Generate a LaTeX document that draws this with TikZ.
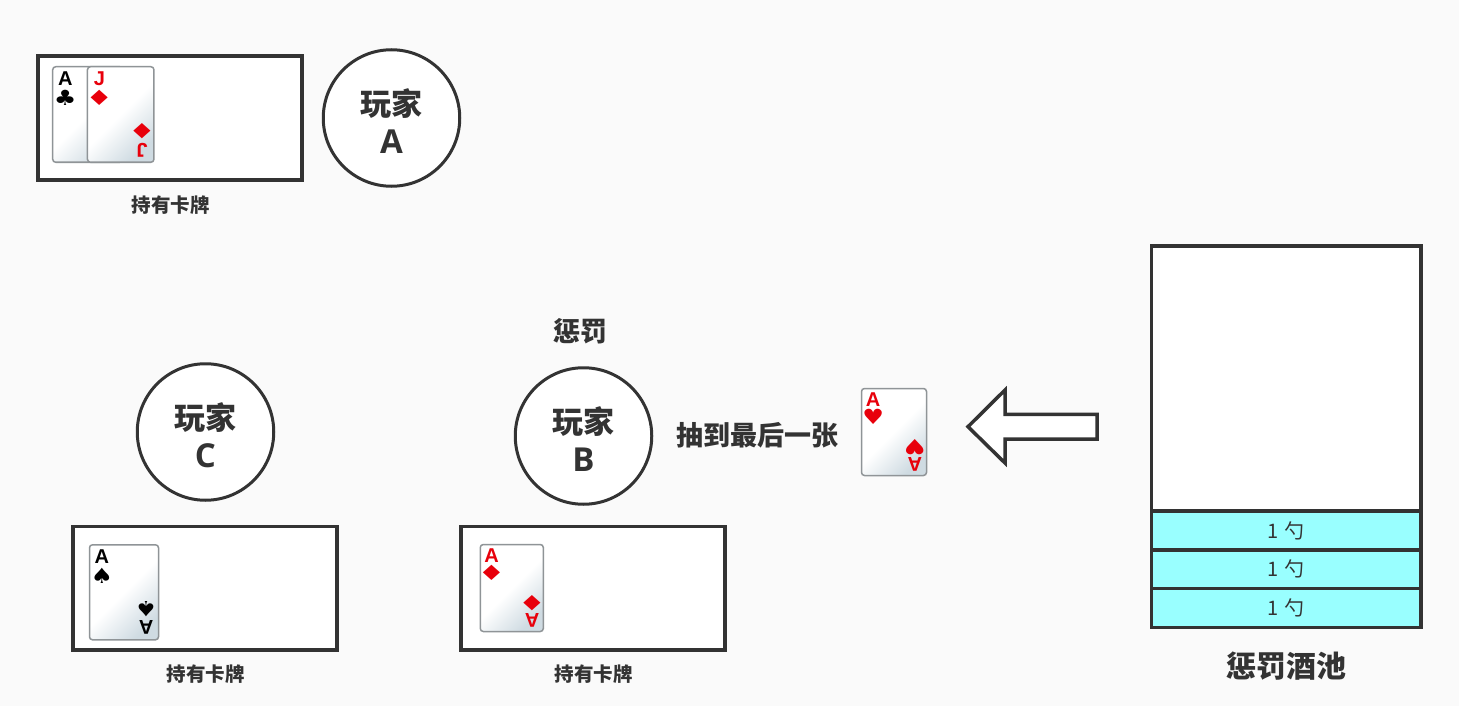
\documentclass[tikz,border=0pt]{standalone}
\usepackage{fontspec}
\usepackage{graphicx}
\setmainfont{Noto Sans CJK SC}
\newfontfamily\cardfont{Liberation Sans}
\newfontfamily\suitfont{DejaVu Sans}
\newfontfamily\letterfont{Open Sans}
\definecolor{ink}{HTML}{333333}
\definecolor{bg}{HTML}{FAFAFA}
\definecolor{cyanfill}{HTML}{99FFFF}
\definecolor{cardred}{HTML}{E8000B}
\definecolor{cardedge}{HTML}{8F9497}
\definecolor{cardshade}{HTML}{CFDBE2}
\tikzset{
  x=1pt,y=-1pt,
  handbox/.style={draw=ink,line width=3.5pt,fill=white,minimum width=264pt,minimum height=123.5pt,inner sep=0pt},
  player/.style={circle,draw=ink,line width=3pt,fill=white,minimum size=136.5pt,inner sep=0pt},
  playertext/.style={align=center,inner sep=0pt,text=ink,font=\bfseries\fontsize{31}{38}\selectfont},
  caption/.style={text=ink,font=\bfseries\fontsize{19.5}{24}\selectfont,inner sep=0pt},
  label/.style={text=ink,font=\bfseries\fontsize{27}{32}\selectfont,inner sep=0pt},
  pooltitle/.style={text=ink,font=\bfseries\fontsize{30}{36}\selectfont,inner sep=0pt},
  poolcell/.style={draw=ink,line width=3.5pt,fill=cyanfill,minimum width=269.5pt,inner sep=0pt,text=ink,font=\fontsize{20}{24}\selectfont},
  cardbody/.style={draw=cardedge,line width=1.5pt,rounded corners=3pt,left color=white,right color=cardshade,middle color=white,shading angle=45,inner sep=0pt},
  rank/.style={inner sep=0pt,font=\cardfont\bfseries\fontsize{20}{20}\selectfont},
  suit/.style={inner sep=0pt,font=\suitfont\fontsize{21}{21}\selectfont},
  arrowshape/.style={draw=ink,line width=3.5pt,fill=white,miter limit=10},
}
% name, centre x, centre y, width, height, rank, suit, colour
\newcommand{\playcard}[8]{%
  \node[cardbody,minimum width=#4pt,minimum height=#5pt] (#1) at (#2,#3) {};
  \node[rank,text=#8] (#1r1) at ([shift={({0.19*#4},{0.135*#5})}]#1.north west) {#6};
  \node[suit,text=#8] (#1s1) at ([shift={({0.19*#4},{0.335*#5})}]#1.north west) {#7};
  \node[rank,text=#8,rotate=180] (#1r2) at ([shift={({-0.19*#4},{-0.135*#5})}]#1.south east) {#6};
  \node[suit,text=#8,rotate=180] (#1s2) at ([shift={({-0.19*#4},{-0.335*#5})}]#1.south east) {#7};
}
\newcommand{\wdiam}{\scalebox{1.45}[1]{♦}}
\newcommand{\wclub}{\scalebox{1.2}[1]{♣}}
\newcommand{\wspade}{\scalebox{1.2}[1]{♠}}
\newcommand{\wheart}{\scalebox{1.15}[1]{♥}}
\begin{document}
\begin{tikzpicture}
\fill[bg] (0,0) rectangle (1459,706);
\useasboundingbox (0,0) rectangle (1459,706);
% hands
\node[handbox] (handA) at (170,118) {};
\node[handbox] (handC) at (205,588) {};
\node[handbox] (handB) at (593,588) {};
% players
\node[player] (pA) at (391.5,118) {};
\node[player] (pC) at (205.5,432) {};
\node[player] (pB) at (583.5,436) {};
\node[playertext] (pAt) at ([yshift=-3.5pt]pA.center) {玩家\\{\letterfont\fontsize{33}{38}\selectfont A}};
\node[playertext] (pCt) at ([yshift=-3.5pt]pC.center) {玩家\\{\letterfont\fontsize{33}{38}\selectfont C}};
\node[playertext] (pBt) at ([yshift=-3.5pt]pB.center) {玩家\\{\letterfont\fontsize{33}{38}\selectfont B}};
% captions
\node[caption] (capA) at (170.5,205) {持有卡牌};
\node[caption] (capC) at (205.5,674) {持有卡牌};
\node[caption] (capB) at (593.5,674) {持有卡牌};
\node[label] (pen) at (580.5,331) {惩罚};
\node[label] (draw) at (757.5,435) {抽到最后一张};
% cards
\playcard{ca}{87.7}{114.5}{70}{95.5}{A}{\wclub}{black}
\playcard{cj}{120.7}{114.5}{66.5}{95.5}{J}{\wdiam}{cardred}
\playcard{cs}{124}{592.3}{69}{95}{A}{\wspade}{black}
\playcard{cd}{511.8}{588}{63}{87}{A}{\wdiam}{cardred}
\playcard{ch}{894}{432}{65}{87}{A}{\wheart}{cardred}
% arrow
\draw[arrowshape] (968,426.7) -- (1005,390) -- (1005,414.3) -- (1097,414.3) -- (1097,439) -- (1005,439) -- (1005,463) -- cycle;
% pool
\node[draw=ink,line width=3.5pt,fill=white,minimum width=269.5pt,minimum height=265pt,inner sep=0pt] (pool) at (1286,378.5) {};
\node[poolcell,minimum height=39pt] (c1) at (1286,530.5) {\raisebox{-1.5pt}{1\hspace{6pt}勺}};
\node[poolcell,minimum height=39pt] (c2) at (1286,569.3) {\raisebox{-1.5pt}{1\hspace{6pt}勺}};
\node[poolcell,minimum height=39pt] (c3) at (1286,607.9) {\raisebox{-1.5pt}{1\hspace{6pt}勺}};
\node[pooltitle] (title) at (1286,666) {惩罚酒池};
\end{tikzpicture}
\end{document}
